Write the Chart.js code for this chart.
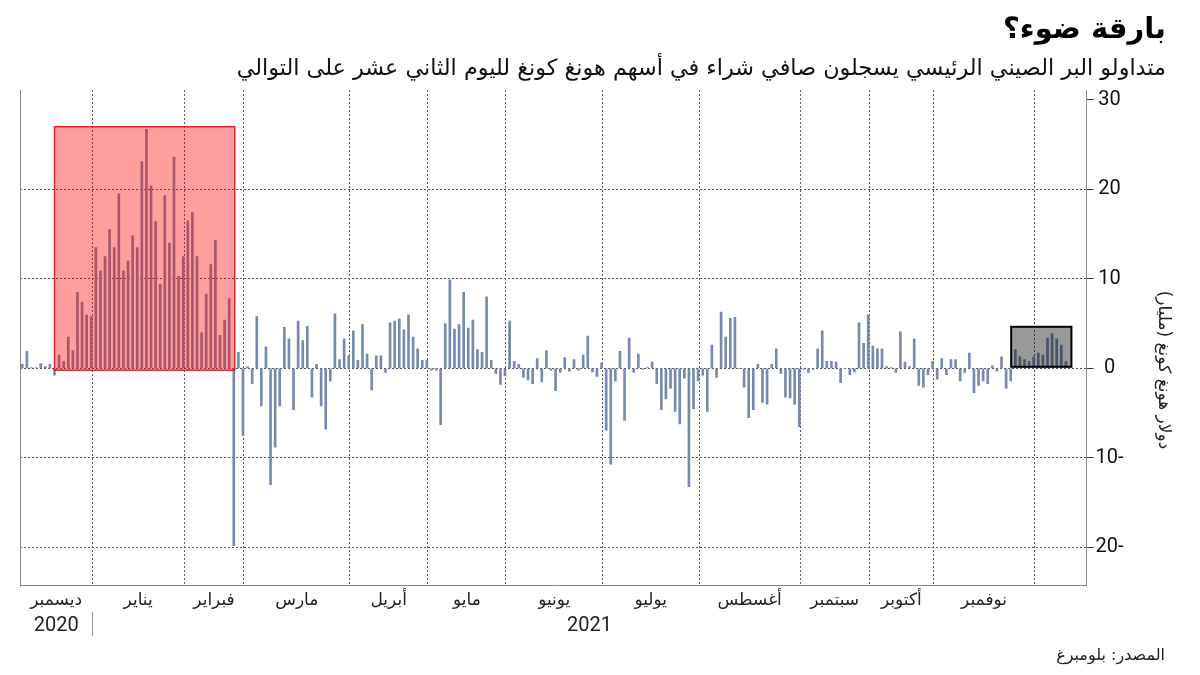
<!DOCTYPE html>
<html dir="rtl" lang="ar">
<head>
<meta charset="utf-8">
<script src="https://cdn.jsdelivr.net/npm/chart.js@4.4.1/dist/chart.umd.min.js"></script>
<style>
html,body{margin:0;padding:0;background:#fff;}
#wrap{width:1200px;height:675px;position:relative;}
canvas{direction:rtl;}
</style>
</head>
<body>
<div id="wrap"><canvas id="c" width="1200" height="675"></canvas></div>
<script>
// Daily net purchases of Hong Kong stocks by mainland traders (HK$ bn), by month
const dec2020 = [0.45, 1.9, 0.1, 0.1, 0.55, 0.2, 0.45, -0.75, 1.5, 0.8, 3.5, 2.0, 8.5, 7.4, 6.0, 5.8];
const jan2021 = [13.5, 10.9, 12.5, 15.5, 13.5, 19.5, 10.9, 12.0, 14.8, 13.5, 23.1, 26.7, 20.4, 16.4, 9.4, 19.3, 14.0, 23.6, 10.3, 12.5];
const feb2021 = [16.5, 17.4, 12.5, 4.0, 8.3, 11.6, 14.3, 3.7, 5.4, 7.8, -19.8, 1.8, -7.5];
const mar2021 = [0.2, -1.7, 5.8, -4.2, 2.4, -13.0, -8.8, -4.2, 4.6, 3.3, -4.6, 5.3, 3.1, 4.7, -3.2, 0.45, -4.2, -6.8, -1.4, 6.1, 1.0, 3.3, 1.4];
const apr2021 = [4.2, 0.9, 4.9, 1.6, -2.4, 1.4, 1.4, -0.45, 5.1, 5.3, 5.5, 4.3, 6.0, 3.5, 2.2, 0.9, 0.9];
const may2021 = [-0.2, -0.2, -6.3, 5.0, 9.9, 4.4, 4.9, 8.5, 4.5, 5.4, 2.1, 1.8, 8.0, 0.9, -0.6, -1.8, -0.8];
const jun2021 = [5.3, 0.8, 0.45, -1.0, -1.3, -1.7, 1.1, -1.5, 2.0, -0.2, -2.5, -0.45, 1.2, -0.3, 1.0, -0.2, 1.5, 3.6, -0.4, -0.9, 0.6];
const jul2021 = [-6.9, -10.7, -1.4, 1.9, -5.8, 3.4, -0.45, 1.6, -0.1, 0.1, 0.7, -1.7, -4.6, -3.4, -2.2, -4.8, -6.2, -1.1, -13.2, -4.5, -1.4];
const aug2021 = [-0.75, -4.8, 2.6, -1.0, 6.3, 3.5, 5.6, 5.7, 0, -2.1, -5.5, -4.6, 0.45, -3.8, -4.0, 0.45, 2.2, -0.55, -3.2, -3.3, -4.0, -6.5];
const sep2021 = [-0.1, -0.45, -0.1, 2.2, 4.2, 0.8, 0.8, 0.7, -1.6, 0, -0.7, -0.4, 5.1, 2.8, 6.0];
const oct2021 = [2.5, 2.2, 2.2, 0.2, 0.1, -0.45, 4.1, 0.7, 0.2, 3.3, -1.9, -2.1, -0.7, 0.8];
const nov2021 = [-1.2, 1.1, -0.7, 1.0, 1.0, -1.4, -0.45, 1.7, -2.7, -1.9, -1.4, -1.7, 0.3, -0.3, 1.3, -2.2, -1.4, 2.1, 1.3, 1.0, 0.8, 1.3];
const dec2021 = [1.7, 1.5, 3.4, 3.9, 3.3, 2.6, 0.75];

const monthLabels = ['ديسمبر', 'يناير', 'فبراير', 'مارس', 'أبريل', 'مايو', 'يونيو', 'يوليو', 'أغسطس', 'سبتمبر', 'أكتوبر', 'نوفمبر'];
const yearLabels = ['2020', '2021'];
const yTicks = [30, 20, 10, 0, -10, -20];
const emptySlotsAtEnd = 4;

// highlighted periods (data units: bar index / HK$ bn)
const highlightBoxes = [
  {from: 7, to: 46.2, low: -0.2, high: 27.0, fill: 'rgba(255,0,0,0.38)', stroke: '#e3262b', lw: 1.5},
  {from: 215.1, to: 228.2, low: 0.18, high: 4.65, fill: 'rgba(0,0,0,0.40)', stroke: '#000000', lw: 2}
];

const titleText = 'بارقة ضوء؟';
const subtitleText = 'متداولو البر الصيني الرئيسي يسجلون صافي شراء في أسهم هونغ كونغ لليوم الثاني عشر على التوالي';
const yTitle = 'دولار هونغ كونغ (مليار)';
const sourceText = 'المصدر: بلومبرغ';

// ---- derived
const months = [dec2020, jan2021, feb2021, mar2021, apr2021, may2021, jun2021, jul2021, aug2021, sep2021, oct2021, nov2021, dec2021];
const values = months.flat();
const xMin = -0.5, xMax = values.length + emptySlotsAtEnd - 0.5;
const lastIdx = []; let acc = 0;
months.forEach(m => { acc += m.length; lastIdx.push(acc - 1); });
const boundaries = lastIdx.slice(0, -1).map(i => i + 0.2);
const edges = [xMin, ...boundaries, xMax];

// x-axis ticks: month boundaries (grid lines), month centres (names), year centres (second line)
const xTicks = [];
boundaries.forEach(v => xTicks.push({value: v, kind: 'grid', label: ''}));
monthLabels.forEach((m, i) => xTicks.push({value: (edges[i] + edges[i + 1]) / 2, kind: 'month', label: m}));
xTicks.push({value: (xMin + boundaries[0]) / 2 + 0.01, kind: 'year', label: ['', yearLabels[0]]});
xTicks.push({value: (boundaries[0] + xMax) / 2, kind: 'year', label: ['', yearLabels[1]]});
xTicks.sort((a, b) => a.value - b.value);

const FONT = "'DejaVu Sans', 'Noto Sans', sans-serif";
const NUMFONT = "'Liberation Sans Narrow', 'Roboto', 'DejaVu Sans', sans-serif";

const boxPlugin = {
  id: 'boxes',
  afterDatasetsDraw(chart) {
    const {ctx, scales: {x, y}} = chart;
    highlightBoxes.forEach(b => {
      const x0 = x.getPixelForValue(b.from), x1 = x.getPixelForValue(b.to);
      const y0 = y.getPixelForValue(b.high), y1 = y.getPixelForValue(b.low);
      ctx.save();
      ctx.fillStyle = b.fill;
      ctx.fillRect(x0, y0, x1 - x0, y1 - y0);
      ctx.strokeStyle = b.stroke; ctx.lineWidth = b.lw;
      ctx.strokeRect(x0, y0, x1 - x0, y1 - y0);
      ctx.restore();
    });
  }
};
const extrasPlugin = {
  id: 'extras',
  afterDraw(chart) {
    const ctx = chart.ctx, x = chart.scales.x;
    ctx.save();
    // year separator
    const sx = Math.round(x.getPixelForValue(boundaries[0])) + 0.5;
    ctx.strokeStyle = '#999'; ctx.lineWidth = 1;
    ctx.beginPath(); ctx.moveTo(sx, x.top + 27); ctx.lineTo(sx, x.top + 51); ctx.stroke();
    // source
    ctx.font = '16px ' + FONT;
    ctx.fillStyle = '#222';
    ctx.textAlign = 'right';
    ctx.textBaseline = 'middle';
    ctx.fillText(sourceText, chart.width - 35, 656);
    ctx.restore();
  }
};

new Chart(document.getElementById('c'), {
  type: 'bar',
  data: {
    datasets: [{
      data: values.map((v, i) => ({x: i, y: v})),
      backgroundColor: '#778aad',
      barThickness: 2,
      xAxisID: 'x', yAxisID: 'y'
    }]
  },
  options: {
    responsive: false,
    animation: false,
    layout: {padding: {left: 20, right: 34, top: 9, bottom: 32}},
    plugins: {
      legend: {display: false},
      tooltip: {enabled: false},
      title: {display: true, text: titleText, align: 'end', color: '#000',
        font: {family: FONT, size: 29, weight: 'bold'}, padding: {top: 4, bottom: 8}},
      subtitle: {display: true, text: subtitleText, align: 'end', color: '#111',
        font: {family: FONT, size: 22.3}, padding: {top: 0, bottom: 7.5}}
    },
    scales: {
      x: {
        type: 'linear', position: 'bottom', min: xMin, max: xMax, offset: false,
        afterBuildTicks: s => { s.ticks = xTicks.map(t => ({value: t.value})); },
        ticks: {autoSkip: false, maxRotation: 0, minRotation: 0, padding: 5, color: '#222',
          font: c => (xTicks[c.index] && xTicks[c.index].kind === 'year')
            ? {family: NUMFONT, size: 20, lineHeight: 1.2}
            : {family: FONT, size: 17, lineHeight: 1.2},
          callback: (v, i) => xTicks[i].label},
        grid: {display: true, offset: false, drawTicks: false, lineWidth: 1,
          color: c => (xTicks[c.index] && xTicks[c.index].kind === 'grid') ? '#555' : 'rgba(0,0,0,0)'},
        border: {display: true, color: '#888', width: 1, dash: [2, 2]}
      },
      y: {
        type: 'linear', position: 'right', min: -24.2, max: 31.1,
        afterBuildTicks: s => { s.ticks = yTicks.map(v => ({value: v})); },
        ticks: {color: '#111', font: {family: NUMFONT, size: 20}, padding: 2, crossAlign: 'center',
          callback: v => String(v)},
        grid: {offset: false, color: c => (c.tick && c.tick.value === 30) ? 'rgba(0,0,0,0)' : '#555',
          drawTicks: true, tickLength: 7, tickColor: '#333', tickBorderDash: []},
        border: {display: true, color: '#888', width: 1, dash: [2, 2]},
        title: {display: true, text: yTitle + '\u00A0'.repeat(12), color: '#222',
          font: {family: FONT, size: 17}, padding: {top: -8, bottom: 28}}
      },
      yl: {
        type: 'linear', position: 'left', min: 0, max: 1,
        ticks: {display: false},
        grid: {display: false, drawTicks: false},
        border: {display: true, color: '#888', width: 1}
      }
    }
  },
  plugins: [boxPlugin, extrasPlugin]
});
</script>
</body>
</html>
